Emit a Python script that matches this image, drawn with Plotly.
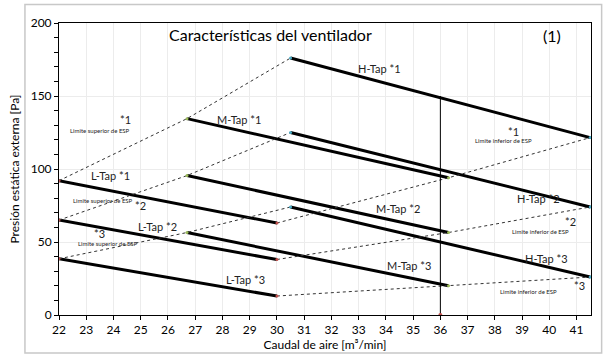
import plotly.graph_objects as go

# Caudal de aire [m3/min] at start / end of each tap curve
flow_L = [22, 30]
flow_M = [26.7, 36.3]
flow_H = [30.5, 41.5]

# Presion estatica externa [Pa] at start / end of each curve
L_tap = {1: [92, 63], 2: [65, 38], 3: [38.5, 13]}
M_tap = {1: [134.5, 94], 2: [95.5, 56.5], 3: [56.5, 20]}
H_tap = {1: [176, 121.5], 2: [125, 74], 3: [74, 26]}

rated_flow = 36
rated_top = 150

FONT = "Lato, 'Open Sans', sans-serif"

fig = go.Figure()

# Solid tap curves
for name, xs, curves in (("L-Tap", flow_L, L_tap), ("M-Tap", flow_M, M_tap), ("H-Tap", flow_H, H_tap)):
    for k, ys in curves.items():
        fig.add_trace(go.Scatter(x=xs, y=ys, mode="lines", name=f"{name} *{k}",
                                 line=dict(color="black", width=3)))

# Dashed ESP limit lines (upper: start points, lower: end points)
dot_colors = ["#c0504d", "#9bbb59", "#4bacc6"]
for k in (1, 2, 3):
    up_x = [flow_L[0], flow_M[0], flow_H[0]]
    up_y = [L_tap[k][0], M_tap[k][0], H_tap[k][0]]
    lo_x = [flow_L[1], flow_M[1], flow_H[1]]
    lo_y = [L_tap[k][1], M_tap[k][1], H_tap[k][1]]
    for xs, ys in ((up_x, up_y), (lo_x, lo_y)):
        fig.add_trace(go.Scatter(x=xs, y=ys, mode="lines+markers",
                                 line=dict(color="#333333", width=1, dash="3px,3px"),
                                 marker=dict(size=3, color=dot_colors)))

# Rated flow marker line
fig.add_trace(go.Scatter(x=[rated_flow, rated_flow], y=[0, rated_top], mode="lines",
                         line=dict(color="black", width=1)))
fig.add_trace(go.Scatter(x=[rated_flow], y=[0], mode="markers",
                         marker=dict(size=4, color="#c0504d")))

# Tap labels (x, y, text)
tap_labels = [
    (33.75, 168.5, "H-Tap *1"), (28.6, 134.2, "M-Tap *1"), (23.9, 95.4, "L-Tap *1"),
    (39.6, 79.5, "H-Tap *2"), (34.45, 73.1, "M-Tap *2"), (25.6, 60.5, "L-Tap *2"),
    (39.9, 39.0, "H-Tap *3"), (34.85, 33.8, "M-Tap *3"), (28.85, 24.0, "L-Tap *3"),
]
for x, y, t in tap_labels:
    fig.add_annotation(x=x, y=y, text=t, showarrow=False,
                       font=dict(family=FONT, size=11, color="#222222"))

# ESP limit labels: (x star, y star, star text, x label, y label, label text)
limit_labels = [
    (24.43, 134.0, "*1", 23.52, 126.5, "Limite superior de ESP"),
    (24.98, 75.3, "*2", 23.6, 78.3, "Limite superior de ESP"),
    (23.5, 55.5, "*3", 23.8, 49.1, "Limite superior de ESP"),
    (38.7, 126.0, "*1", 38.3, 119.5, "Limite inferior de ESP"),
    (40.76, 63.9, "*2", 39.66, 57.1, "Limite inferior de ESP"),
    (41.09, 20.5, "*3", 39.25, 16.4, "Limite inferior de ESP"),
]
for xs, ys, st, xl, yl, lt in limit_labels:
    fig.add_annotation(x=xs, y=ys, text=st, showarrow=False,
                       font=dict(family=FONT, size=11, color="#222222"))
    fig.add_annotation(x=xl, y=yl, text=lt, showarrow=False,
                       font=dict(family=FONT, size=6, color="#222222"))

# Title and chart number
fig.add_annotation(x=0.397, y=0.959, xref="paper", yref="paper", xanchor="center", yanchor="middle",
                   text="Características del ventilador",
                   showarrow=False, font=dict(family=FONT, size=16, color="black"))
fig.add_annotation(x=0.927, y=0.957, xref="paper", yref="paper", xanchor="center", yanchor="middle",
                   text="(1)", showarrow=False, font=dict(family=FONT, size=16, color="black"))

# Outer chart border
fig.add_shape(type="rect", xref="paper", yref="paper", x0=-0.064, x1=1.02, y0=-0.13, y1=1.063,
              line=dict(color="#c8c8c8", width=1.5), layer="below")

fig.update_xaxes(range=[22, 41.53], dtick=1, tick0=22, showline=True, mirror=True, automargin=False,
                 linecolor="black", linewidth=1, ticks="outside", ticklen=4, tickcolor="black",
                 showgrid=True, gridcolor="#ececec", zeroline=False,
                 tickfont=dict(family=FONT, size=12, color="black"),
                 title=dict(text="Caudal de aire [m³/min]", standoff=4,
                            font=dict(family=FONT, size=12, color="black")))
fig.update_yaxes(range=[0, 200], dtick=50, showline=True, mirror=True, automargin=False,
                 linecolor="black", linewidth=1, ticks="outside", ticklen=4, tickcolor="black",
                 minor=dict(dtick=10, ticks="outside", ticklen=4, tickcolor="black", showgrid=False),
                 showgrid=True, gridcolor="#ececec", zeroline=False,
                 tickfont=dict(family=FONT, size=12, color="black"),
                 title=dict(text="Presión estática externa [Pa]", standoff=8,
                            font=dict(family=FONT, size=12, color="black")))

fig.update_layout(width=605, height=356, showlegend=False,
                  margin=dict(l=59, r=14, t=23, b=41),
                  paper_bgcolor="white", plot_bgcolor="white")

# the page has a default 8px body margin; drop it so the chart sits at the window corner
fig.write_html("out.html", config={"displayModeBar": False},
               post_script="document.body.style.margin='0';")
